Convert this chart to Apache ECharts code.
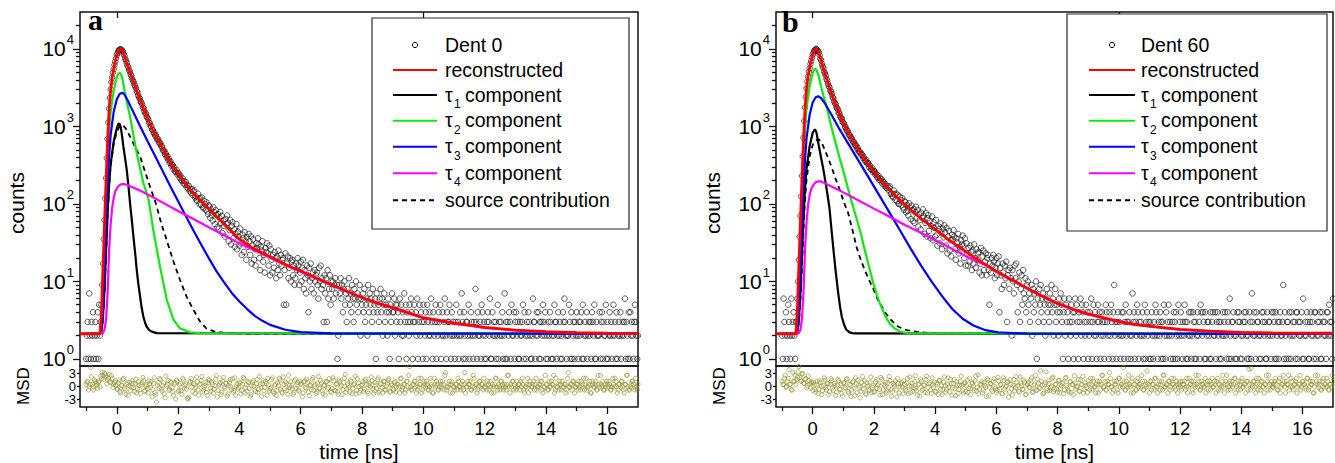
<!DOCTYPE html>
<html><head><meta charset="utf-8">
<script src="https://cdn.jsdelivr.net/npm/echarts@6/dist/echarts.min.js"></script>
<style>html,body{margin:0;padding:0;background:#fff}#c{width:1335px;height:463px}</style>
</head><body><div id="c"></div>
<script>
// ---------------- DATA ----------------
// photon counts per channel (channel width 0.025 ns starting at -1.0 ns)
const COUNT_T0 = -1.0, COUNT_DT = 0.025;
// MSD residuals: two interleaved sets, each every 0.05 ns (starting at -1.0 and -0.975 ns)
const MSD_T0 = -1.0, MSD_T0_2 = -0.975, MSD_DT = 0.05;

const countsA = [1,2,3,1,7,2,1,3,2,4,1,2,3,1,2,4,1,5,2,
3,5,9,17,35,62,118,215,390,690,1130,1700,2330,3020,3710,4280,4950,5480,6230,6850,7580,8380,8870,9410,9620,9920,9870,9760,9580,9250,
8590,8170,7460,7080,6610,6080,5810,5330,5140,4710,4500,4150,3890,3750,3440,3300,3110,2840,2750,2510,2360,2290,2100,2040,1930,1760,1720,1570,1490,1460,1330,1300,
1240,1120,1110,1010,1000,910,900,820,830,760,770,700,680,690,625,600,610,550,555,498,480,490,436,445,401,415,368,380,340,355,312,322,318,280,295,262,258,274,240,251,
246,219,232,205,199,214,185,197,178,192,165,175,158,171,146,154,139,155,131,145,150,121,126,112,110,135,118,99,118,97,121,92,88,110,99,84,105,80,74,96,
92,66,85,72,61,90,78,55,83,72,50,74,48,66,79,57,70,42,61,52,38,64,55,71,57,33,46,62,30,52,58,36,47,28,41,55,26,44,38,29,
48,31,22,40,36,24,43,33,19,37,28,41,33,22,38,17,29,35,19,26,16,31,27,36,30,20,14,28,25,33,18,22,13,27,24,31,23,16,29,12,
26,19,13,22,15,24,20,11,21,14,25,17,12,22,16,19,20,5,14,23,5,17,21,11,15,20,10,18,19,12,16,9,11,17,14,20,16,9,13,18,
10,15,19,8,14,11,7,16,12,4,15,10,17,8,11,13,7,14,10,12,13,9,6,15,10,16,8,11,9,3,12,7,11,3,14,6,8,12,5,10,
8,10,6,9,11,7,9,1,2,9,7,11,6,9,4,8,10,5,7,3,8,6,11,5,7,4,9,6,3,8,6,10,5,7,4,6,9,2,6,5,
7,4,8,3,5,6,2,9,4,7,5,6,3,8,4,5,6,1,7,4,5,3,6,8,4,6,2,5,7,3,5,4,2,6,4,1,5,3,7,4,
4,6,2,5,3,5,4,1,6,3,5,2,4,2,7,3,5,1,4,3,2,5,3,6,4,1,3,5,3,4,2,6,1,3,5,2,4,3,1,5,
3,2,4,1,5,3,2,4,2,6,3,1,4,2,3,5,1,3,2,4,3,5,1,2,4,2,3,6,2,1,4,3,3,5,2,1,4,2,3,2,
1,3,5,2,3,1,2,4,2,7,3,1,4,2,1,3,3,2,5,1,2,4,3,2,1,3,2,8,3,1,4,2,2,3,1,5,4,2,3,1,
2,1,3,4,3,2,6,1,1,4,2,3,2,3,1,2,5,1,3,2,3,2,4,1,2,7,1,3,1,3,2,4,3,1,5,2,2,4,1,3,
4,2,3,1,1,3,2,2,3,5,1,4,2,1,3,2,4,3,2,1,1,2,6,3,3,1,2,4,2,4,1,3,1,3,2,5,3,2,4,1,
2,1,3,2,4,3,1,2,1,2,5,3,3,1,2,4,2,3,1,2,1,4,3,6,3,2,1,2,2,5,3,1,4,1,2,3,1,3,2,4,
2,1,3,2,3,4,1,5,1,2,3,2,4,1,2,3,2,3,1,4,3,2,5,1,1,3,2,2,2,4,1,3,4,1,3,2,2,5,1,3,
1,2,4,2,3,1,2,5,2,3,1,4,1,2,3,2,4,1,2,3,2,3,6,1,3,2,1,4,1,4,2,3,2,1,3,5,3,2,1,2];

const countsB = [2,1,6,3,2,4,1,2,5,3,2,1,6,2,3,4,2,1,3,
3,6,10,19,38,70,125,230,410,720,1180,1760,2410,3100,3800,4400,5050,5620,6350,7000,7700,8450,8980,9450,9720,10050,9930,9710,9400,9020,
8310,7480,7090,6420,5930,5650,5100,4860,4510,4080,3900,3540,3310,3190,2890,2790,2620,2380,2310,2110,1990,1940,1760,1720,1640,1500,1470,1340,1280,1260,1150,1120,
1080,990,985,910,870,865,795,770,765,705,700,650,625,630,575,580,560,515,525,482,465,474,432,441,425,390,398,366,355,368,332,338,331,298,310,282,275,289,258,266,
262,238,247,224,218,231,205,214,196,209,183,194,190,171,180,162,159,170,150,161,168,134,139,126,123,149,133,113,136,108,131,101,100,124,112,96,119,90,84,108,
105,78,97,82,71,102,90,64,95,83,60,86,57,78,92,66,84,51,73,62,47,77,66,85,70,41,57,76,38,65,72,45,60,36,52,69,34,58,49,38,
62,40,29,52,47,31,56,43,26,48,37,53,43,29,49,23,38,45,25,34,21,40,35,46,38,26,19,36,32,41,23,28,17,34,30,39,29,20,36,16,
31,23,16,27,18,29,24,14,25,17,30,20,15,26,19,23,24,13,17,27,12,21,25,14,18,23,12,20,22,14,5,17,13,20,16,22,18,11,15,20,
12,17,21,4,15,12,8,17,13,9,16,11,18,3,12,14,8,15,11,2,14,10,7,16,11,17,9,4,10,13,3,8,12,5,14,7,6,11,4,9,
10,5,7,3,6,9,2,8,4,7,5,10,1,6,3,8,5,9,4,6,7,3,5,2,6,8,4,5,3,7,5,9,4,6,2,5,8,3,5,4,
2,6,4,7,5,3,1,4,6,2,5,3,4,1,6,3,2,5,3,4,1,4,6,2,5,3,1,4,3,6,2,5,4,1,3,2,5,3,4,1,
2,4,3,6,1,3,5,2,4,2,1,3,5,3,4,1,2,4,3,2,1,3,5,4,3,2,1,4,2,5,3,1,4,9,2,3,1,3,4,2,
3,1,2,4,2,4,1,3,5,2,3,1,3,4,2,1,2,7,3,4,1,3,2,5,4,1,3,2,3,2,4,1,2,5,1,3,4,2,3,1,
3,1,4,2,1,3,2,5,4,2,1,3,2,4,3,1,3,1,5,2,1,4,2,3,5,2,3,1,2,3,1,4,3,1,4,2,1,5,2,3,
4,2,1,3,2,5,3,1,3,1,2,4,2,4,1,2,4,3,1,3,1,2,4,2,3,1,5,4,2,4,3,1,4,1,2,3,3,2,1,4,
1,3,4,2,2,4,1,3,4,2,3,1,3,1,2,4,2,3,4,2,1,4,3,1,6,2,1,3,3,4,2,1,2,1,4,3,4,3,1,2,
1,2,3,4,3,4,2,1,2,1,4,3,1,7,3,2,4,2,1,4,3,3,2,1,2,1,4,3,4,2,3,1,1,4,2,3,3,2,1,4,
2,4,3,1,4,1,2,3,1,3,4,2,2,3,9,1,4,2,1,3,3,1,4,2,1,4,2,3,2,3,1,4,4,1,3,2,3,2,4,1,
6,1,2,3,2,4,3,1,1,3,4,2,3,2,1,4,4,1,2,3,2,3,4,1,1,4,3,2,3,2,1,4,4,2,5,3,2,3,1,6];

const msdA = [0.5,1.2,-0.1,4.4,0.5,-0.8,1.2,0.3,0.9,-0.1,
1.8,2.6,3.1,2.2,1.5,2.8,0.9,1.9,0.4,1.3,-0.6,
0.8,-1.2,0.3,1.6,-0.4,-1.8,0.9,0.2,-0.9,1.4,-0.3,0.6,-1.5,1.1,-0.7,0.4,2.1,-1.1,0.1,-0.5,
1.3,-0.2,-2.4,0.7,-1.4,-3.6,0.9,1.8,-0.6,0.2,-1.7,2.4,0.5,-0.9,1.2,-0.3,-2.0,0.8,1.5,-1.2,
0.3,-1.0,1.9,-0.5,0.6,-2.7,-2.5,1.1,-0.1,0.7,-1.6,2.2,-0.8,0.4,1.4,-1.3,-0.2,0.9,-2.1,1.7,
-0.4,1.0,-1.5,0.2,2.5,-0.9,0.6,-1.9,1.3,-0.1,0.8,-2.2,0.3,1.6,-0.7,-1.3,2.0,0.1,-0.6,1.1,
-1.7,0.5,1.8,-0.3,-1.1,0.9,-2.3,0.2,1.4,-0.8,0.6,-1.4,2.3,-0.2,0.7,-1.0,1.2,-2.0,0.4,-0.5,
1.6,-1.2,0.3,-2.1,0.8,1.9,-0.6,-1.5,0.5,1.1,-0.9,2.6,-0.3,0.2,-1.8,1.3,-0.4,0.9,-1.1,0.6,
-2.4,1.0,-0.2,1.7,-1.3,0.4,-0.7,2.1,0.1,-1.6,0.8,-0.5,1.4,-1.0,0.3,-2.0,1.2,-0.3,0.7,-1.4,
2.0,-0.8,0.5,-1.2,1.5,-0.1,-1.9,0.9,2.8,-0.6,0.2,-1.3,1.1,-0.4,0.6,-1.7,1.8,0.0,-0.9,0.4,
-1.1,1.3,0.5,-1.6,0.8,2.2,-0.5,-1.0,0.3,1.6,-1.4,0.7,-0.2,1.2,-0.8,0.1,1.5,-1.2,0.6,-0.4,
0.9,-1.3,0.5,-0.1,1.8,-0.8,0.5,-1.5,1.2,-0.1,4.6,-0.8,0.5,1.2,-0.1,-0.8,1.9,0.5,-1.5,-0.1,
0.5,1.2,-0.8,-0.1,0.5,-1.5,1.9,-0.1,0.5,-0.8,1.2,-0.1,0.5,2.6,-0.8,-0.1,1.2,0.5,-1.5,-0.1,
0.5,-0.8,1.2,-0.1,0.5,-0.8,3.2,-0.1,1.2,0.5,-0.8,-0.1,1.9,0.5,-1.5,-0.1,1.2,0.5,-0.8,-0.1,
0.5,1.2,-0.8,-0.1,0.5,-1.5,1.9,-0.1,0.5,-0.8,1.2,-0.1,0.5,-0.8,2.6,-0.1,0.5,1.2,-0.8,-0.1,
1.2,0.5,-0.8,-0.1,0.5,-1.5,-0.1,1.9,0.5,-0.8,-0.1,1.2,0.5,-0.8,-0.1,0.5,1.2,-1.5,-0.1,0.5,
-0.8,1.2,-0.1,0.5,2.6,-0.8,-0.1,0.5,1.2,-0.8,-0.1,0.5,-1.5,1.9,-0.1,0.5,-0.8,1.2,-0.1,0.5,
-0.8,-0.1,1.2,0.5,-0.8,1.9,-0.1,0.5,-1.5,1.2,-0.1,0.5,-0.8,2.6,-0.1,0.5,1.2,-0.8,-0.1,0.5,
1.2,-0.8,-0.1,0.5,1.9,-0.1,-0.8,0.5,1.2,-0.1,-1.5,0.5,2.6,-0.8,-0.1,1.2,0.5,-0.8,-0.1,0.5];

const msdA2 = [1.0,-0.8,0.5,2.2,-0.1,1.5,0.8,-0.4,1.2,
2.4,3.3,1.7,2.9,0.6,2.0,1.1,2.5,-0.2,0.9,0.3,
-0.6,1.5,-1.4,0.2,1.9,-0.8,0.5,-2.0,1.0,-0.2,0.7,-1.2,1.7,-0.5,0.3,-1.6,0.9,1.3,-0.9,0.4,
-1.5,0.6,1.1,-0.7,2.0,-1.9,0.3,-0.4,1.6,-1.1,0.8,-2.6,0.1,1.4,-0.6,0.9,-1.3,0.5,-2.9,1.2,
-0.9,0.7,-1.8,1.5,0.2,-0.6,-2.9,0.8,1.8,-1.2,0.4,-0.3,1.1,-2.0,0.6,2.3,-0.8,0.2,-1.4,0.9,
1.4,-1.1,0.5,-0.6,1.7,-2.4,0.3,0.9,-1.3,2.1,-0.4,0.6,-1.7,1.0,-0.1,1.8,-0.9,-2.0,0.7,-0.3,
0.8,-0.9,2.1,-1.5,0.4,1.2,-0.5,-1.9,0.9,0.1,-1.2,1.6,-0.7,0.5,-2.2,1.3,-0.2,0.7,1.9,-1.0,
-0.3,2.0,-1.6,0.6,-0.9,0.3,1.5,-1.3,2.2,-0.5,0.8,-1.8,0.2,1.1,-0.6,-1.4,1.7,0.4,-0.8,1.2,
0.6,-1.5,1.3,-0.4,0.9,-2.1,0.2,1.6,-0.9,0.5,-1.2,2.3,-0.3,0.8,-1.7,0.3,1.0,-0.6,1.8,-1.1,
-0.5,1.4,-1.0,0.7,-1.8,1.1,0.3,-0.7,1.9,-1.3,0.6,-0.2,1.5,-1.6,0.4,2.4,-0.9,0.8,-1.4,0.2,
1.1,-0.6,1.7,-1.2,0.3,-0.1,1.3,-1.7,0.9,-0.4,2.0,-1.0,0.5,-1.5,1.2,-0.8,0.6,1.8,-1.3,0.3,
-0.8,1.2,-0.1,0.5,-1.5,1.9,-0.1,0.5,-0.8,1.2,2.6,-0.1,-0.8,0.5,1.2,-1.5,-0.1,0.5,1.9,-0.8,
1.2,-0.1,0.5,-0.8,1.9,-0.1,-1.5,0.5,1.2,-0.8,-0.1,0.5,1.2,-0.8,3.2,-0.1,0.5,-1.5,1.2,-0.1,
-0.8,0.5,1.9,-0.1,-0.8,1.2,0.5,-1.5,-0.1,0.5,1.2,-0.8,2.6,-0.1,0.5,-0.8,1.2,-0.1,0.5,1.9,
-0.1,-0.8,0.5,1.2,-1.5,-0.1,0.5,1.9,-0.8,-0.1,1.2,0.5,-0.8,-0.1,0.5,2.6,-1.5,-0.1,1.2,0.5,
-0.8,-0.1,0.5,1.2,1.9,-0.8,-0.1,0.5,-1.5,1.2,-0.1,0.5,-0.8,1.9,-0.1,0.5,1.2,-0.8,-0.1,2.6,
0.5,-0.8,-0.1,1.2,0.5,-1.5,1.9,-0.1,-0.8,0.5,1.2,-0.1,0.5,-0.8,3.2,-0.1,0.5,1.2,-1.5,-0.1,
0.5,1.2,-0.8,-0.1,1.9,0.5,-0.8,-0.1,1.2,-1.5,0.5,-0.1,1.2,-0.8,0.5,2.6,-0.1,-0.8,0.5,1.2,
-0.1,0.5,-0.8,1.9,-0.1,1.2,-1.5,0.5,-0.1,1.2,-0.8,0.5,2.6,-0.1,-0.8,0.5,1.2,-0.1,1.9,-0.8];

const msdB = [1.2,0.5,2.6,-0.1,1.9,0.5,-0.8,3.2,1.2,0.5,
2.2,4.6,1.5,2.9,0.8,1.7,-0.3,2.4,0.6,1.1,-0.9,
0.4,-1.3,1.2,-0.6,0.9,-1.9,0.2,1.5,-0.8,0.6,-1.2,1.8,-0.3,0.7,-2.1,0.3,1.3,-0.7,-1.6,0.8,
-0.2,1.6,-1.1,0.5,-2.3,1.0,-0.4,2.0,-1.4,0.3,-2.6,0.9,-0.6,1.4,-1.8,0.1,-0.9,2.2,-0.2,-1.3,
1.1,-0.5,0.6,-2.0,1.7,-0.8,0.2,-1.5,0.9,2.3,-0.7,-1.2,0.4,1.3,-2.4,0.7,-0.1,1.0,-1.7,0.5,
-0.9,1.9,0.1,-1.4,0.8,-0.3,2.5,-1.0,0.4,-2.2,1.2,-0.6,0.3,1.6,-1.5,0.6,-0.8,2.0,-0.2,-1.1,
0.9,-1.8,1.4,0.2,-0.7,2.2,-1.3,0.5,-0.1,1.7,-2.0,0.7,-0.5,1.1,-1.6,0.3,2.4,-0.9,0.6,-1.2,
1.5,-0.4,-1.9,0.8,0.1,1.3,-1.1,2.7,-0.6,0.4,-1.5,1.0,-0.2,1.8,-2.2,0.6,-0.8,1.2,0.0,-1.4,
2.1,-0.7,0.5,-1.7,1.4,-0.1,0.9,-2.5,1.6,-0.5,0.3,-1.0,2.3,0.2,-1.3,0.8,-0.6,1.5,-1.9,0.4,
1.0,-0.3,2.0,-1.2,0.6,-0.8,1.7,-0.2,3.6,0.3,-1.5,0.9,-0.5,1.3,-1.0,0.1,2.2,-0.7,0.5,-1.3,
1.4,-0.4,0.7,-1.6,1.9,0.2,-0.9,1.1,-1.4,0.5,2.5,-0.6,0.0,-1.1,1.6,0.4,-1.5,0.9,-0.3,1.3,
-0.8,0.5,1.9,-0.1,-1.5,1.2,0.5,-0.8,2.6,-0.1,1.2,-0.8,0.5,3.2,-0.1,-1.5,1.2,0.5,-0.8,1.9,
-0.1,0.5,4.4,-0.8,1.2,-0.1,0.5,-1.5,1.9,0.5,-0.8,1.2,-0.1,0.5,2.6,-0.8,1.2,-0.1,0.5,-1.5,
1.2,0.5,-0.8,1.9,-0.1,0.5,-0.8,1.2,2.6,-0.1,0.5,-1.5,1.2,-0.1,0.5,1.9,-0.8,0.5,-0.1,1.2,
-0.8,0.5,1.2,-0.1,-1.5,1.9,0.5,-0.8,1.2,-0.1,0.5,2.6,-0.8,1.2,0.5,-0.1,-1.5,1.2,0.5,-0.8,
1.9,-0.1,0.5,1.2,-0.8,0.5,-0.1,2.6,-1.5,1.2,0.5,-0.1,-0.8,1.2,0.5,1.9,-0.1,-0.8,0.5,1.2,
-0.1,0.5,-1.5,1.2,4.0,-0.8,0.5,1.2,-0.1,1.9,-0.8,0.5,1.2,-0.1,-1.5,0.5,1.2,2.6,-0.8,0.5,
-0.1,1.2,0.5,-0.8,1.9,-0.1,0.5,1.2,-1.5,0.5,2.6,-0.1,1.2,-0.8,0.5,1.9,-0.1,0.5,-0.8,1.2,
0.5,-0.1,1.9,-0.8,1.2,0.5,-1.5,-0.1,1.2,2.6,0.5,-0.8,1.2,-0.1,0.5,1.9,-0.8,0.5,-0.1,1.2];

const msdB2 = [0.5,1.9,-0.1,1.2,3.9,0.5,-0.8,1.2,2.6,
1.6,3.4,2.1,1.2,3.0,0.7,1.8,0.2,1.4,-0.4,0.8,
1.0,-0.7,0.4,-1.6,1.3,0.1,-1.0,2.0,-0.3,0.8,-1.9,0.5,1.4,-0.9,0.2,-1.3,1.7,-0.5,0.6,-2.2,
0.9,-0.4,1.8,-1.5,0.3,-0.8,1.2,-2.1,0.6,1.5,-0.2,-1.1,2.3,0.4,-1.7,0.8,-0.6,1.0,-1.4,0.2,
-1.2,1.6,0.3,-0.7,2.1,-1.9,0.5,0.9,-1.0,-0.3,1.4,-2.3,0.7,0.1,-0.8,1.9,-1.5,0.6,-0.1,1.3,
-0.6,0.8,-1.7,2.2,0.0,-1.1,1.1,-0.4,-2.0,0.6,1.7,-0.9,0.3,-1.4,2.4,-0.2,0.9,-1.6,0.4,1.0,
-1.3,0.5,1.4,-0.6,-1.9,1.0,0.2,-0.8,2.0,-1.2,0.7,-0.3,1.6,-2.1,0.4,-0.7,1.2,0.3,-1.5,0.9,
0.2,-1.4,1.9,-0.5,0.8,-1.0,2.4,-0.2,-1.7,0.6,1.1,-0.8,0.3,-2.3,1.5,-0.1,0.7,-1.2,1.8,-0.4,
-0.9,1.3,0.4,-1.6,2.0,-0.6,0.1,1.2,-1.3,0.5,-2.0,1.6,-0.3,0.9,-1.1,2.2,0.2,-0.7,1.0,-1.8,
0.6,-0.2,1.5,-1.4,0.3,2.6,-0.9,0.8,-0.5,1.2,-1.7,0.4,3.4,-1.0,0.7,-0.3,1.9,-1.2,0.5,-0.6,
1.3,-1.5,0.2,0.9,-0.8,2.1,-0.3,-1.3,1.1,0.4,-1.9,0.8,-0.1,1.6,-1.1,0.5,2.3,-0.7,0.2,-1.4,
0.5,1.9,-0.8,1.2,-0.1,0.5,-1.5,1.2,0.5,2.6,-0.1,-0.8,1.2,0.5,1.9,-0.1,-0.8,0.5,1.2,-1.5,
1.9,0.5,-0.1,1.2,-0.8,0.5,2.6,-0.1,1.2,-1.5,0.5,-0.8,1.9,0.5,-0.1,1.2,-0.8,0.5,3.6,-0.1,
1.2,-0.8,0.5,1.9,-0.1,-1.5,1.2,0.5,-0.8,2.6,-0.1,0.5,1.2,-0.8,1.9,0.5,-0.1,1.2,-1.5,0.5,
-0.1,1.2,0.5,-0.8,1.9,-0.1,0.5,1.2,-1.5,0.5,2.6,-0.1,1.2,-0.8,0.5,-0.1,1.9,0.5,-0.8,1.2,
0.5,-0.1,1.2,-1.5,1.9,0.5,-0.8,1.2,-0.1,0.5,2.6,-0.8,1.2,0.5,-0.1,1.9,-1.5,0.5,1.2,-0.8,
1.9,-0.1,0.5,1.2,-0.8,0.5,4.2,-0.1,1.2,-1.5,0.5,1.9,-0.8,1.2,-0.1,0.5,2.6,-0.8,0.5,1.2,
-0.1,0.5,1.9,-0.8,1.2,-1.5,0.5,2.6,-0.1,1.2,0.5,-0.8,1.9,-0.1,0.5,1.2,-1.5,0.5,2.6,-0.1,
1.2,0.5,-0.8,1.9,-0.1,0.5,1.2,-1.5,2.6,0.5,-0.1,1.2,-0.8,1.9,0.5,-0.1,1.2,-0.8,0.5,2.6];

// fitted curves [time ns, counts]
const reconA = [[-1.2,2.1],[-0.55,2.1],[-0.5,4],[-0.45,15],[-0.4,55],[-0.35,200],[-0.3,650],[-0.25,1650],[-0.2,3000],[-0.15,4300],[-0.1,5500],[-0.05,6900],[0,8300],[0.05,9350],[0.1,9850],[0.13,9900],[0.2,9300],[0.3,7010],[0.4,5400],[0.5,4190],[0.6,3270],[0.7,2550],[0.8,2010],[0.9,1600],[1.0,1285],[1.2,843],[1.4,617],[1.6,431],[1.8,313],[2.0,244],[2.2,190],[2.4,150],[2.7,114],[3.0,86.5],[3.3,66],[3.6,50],[4.0,35],[4.4,27.5],[4.8,22.8],[5.2,19],[5.6,15.8],[6.0,13.6],[6.4,11.6],[6.8,9.8],[7.2,8.4],[7.6,7.2],[8.0,6.2],[8.5,5.25],[9.0,4.6],[9.5,3.96],[10,3.4],[10.5,3.14],[11,2.9],[11.5,2.72],[12,2.55],[13,2.35],[14,2.25],[15,2.18],[16,2.15],[17,2.13]];
const tau1A = [[-1.2,2.1],[-0.55,2.1],[-0.5,2.3],[-0.45,3.5],[-0.4,8],[-0.35,24],[-0.3,75],[-0.25,180],[-0.2,330],[-0.1,640],[0,950],[0.05,1070],[0.086,1100],[0.13,980],[0.17,760],[0.216,549],[0.27,390],[0.325,275],[0.38,170],[0.433,102],[0.49,62],[0.542,38],[0.6,23],[0.65,14.1],[0.7,9.5],[0.759,6.4],[0.81,4.6],[0.868,3.5],[0.92,2.95],[0.976,2.6],[1.06,2.35],[1.14,2.25],[1.3,2.15],[17,2.1]];
const tau2A = [[-1.2,2.1],[-0.55,2.1],[-0.5,3],[-0.45,8],[-0.4,30],[-0.35,105],[-0.3,340],[-0.25,850],[-0.2,1550],[-0.1,2900],[0,4300],[0.05,4800],[0.107,4950],[0.17,4350],[0.25,2950],[0.33,2050],[0.433,1340],[0.54,783],[0.65,451],[0.76,288],[0.868,185],[1.03,118],[1.11,74],[1.19,46],[1.3,26.7],[1.41,15.5],[1.52,9.5],[1.63,5.8],[1.74,4.3],[1.85,3.2],[2.06,2.48],[2.39,2.2],[2.71,2.15],[17,2.1]];
const tau3A = [[-1.2,2.1],[-0.55,2.1],[-0.5,2.3],[-0.45,5],[-0.4,16],[-0.35,55],[-0.3,175],[-0.25,420],[-0.2,780],[-0.1,1550],[0,2250],[0.1,2650],[0.18,2730],[0.26,2550],[0.35,2200],[0.5,1650],[0.75,1030],[1.0,650],[1.25,415],[1.5,265],[1.75,168],[2.0,108],[2.25,70],[2.5,45.5],[2.75,30],[3.0,20],[3.25,13.6],[3.5,9.7],[3.75,7.1],[4.0,5.5],[4.25,4.4],[4.5,3.6],[4.75,3.1],[5.0,2.75],[5.5,2.38],[6.0,2.22],[7.0,2.14],[17,2.1]];
const tau4A = [[-1.2,2.1],[-0.55,2.1],[-0.45,2.15],[-0.4,2.4],[-0.35,3.2],[-0.3,7],[-0.25,25],[-0.2,55],[-0.15,90],[-0.1,120],[-0.05,145],[0.02,163],[0.1,176],[0.17,180],[0.24,181],[0.4,172],[0.7,152],[1.0,133],[1.5,104],[2.0,81],[2.5,64],[3.0,50],[3.5,39.5],[4.0,31],[4.5,25],[5.0,20.2],[5.5,16.3],[6.0,13.3],[6.5,10.9],[7.0,9.0],[7.5,7.4],[8.0,6.1],[8.5,5.2],[9.0,4.5],[9.5,3.9],[10,3.35],[10.5,3.1],[11,2.85],[11.5,2.68],[12,2.52],[13,2.33],[14,2.23],[15,2.17],[16,2.14],[17,2.12]];
const sourceA = [[-1.2,2.1],[-0.55,2.1],[-0.5,2.3],[-0.45,3.4],[-0.4,7.5],[-0.35,22],[-0.3,70],[-0.25,170],[-0.2,310],[-0.1,600],[0,860],[0.1,1010],[0.2,1045],[0.3,930],[0.45,720],[0.6,540],[0.76,408],[0.92,263],[1.085,167],[1.28,100],[1.45,56],[1.63,34],[1.85,18],[2.06,10.5],[2.28,6.3],[2.5,4.3],[2.7,3.1],[2.93,2.45],[3.2,2.25],[3.6,2.15],[4.5,2.12],[17,2.1]];

const reconB = [[-1.2,2.1],[-0.55,2.1],[-0.5,4.5],[-0.45,17],[-0.4,62],[-0.35,220],[-0.3,700],[-0.25,1750],[-0.2,3150],[-0.15,4500],[-0.1,5700],[-0.05,7100],[0,8500],[0.05,9500],[0.095,10000],[0.14,9800],[0.2,8900],[0.3,6500],[0.4,4800],[0.5,3600],[0.6,2750],[0.7,2150],[0.8,1700],[0.9,1370],[1.0,1110],[1.2,780],[1.4,570],[1.6,430],[1.8,330],[2.0,260],[2.2,208],[2.4,170],[2.6,140],[2.8,117],[3.0,99],[3.2,84],[3.4,72],[3.6,62],[3.8,54],[4.0,47],[4.4,35.5],[4.8,27.5],[5.2,21.3],[5.6,17],[6.0,13.5],[6.4,11],[6.8,9.1],[7.2,7.4],[7.6,6.2],[8.0,5.2],[8.5,4.4],[9.0,3.8],[9.5,3.4],[10,3.05],[10.5,2.8],[11,2.65],[12,2.4],[13,2.28],[14,2.2],[15,2.17],[17,2.15]];
const tau1B = [[-1.2,2.1],[-0.55,2.1],[-0.5,2.3],[-0.45,3.3],[-0.4,7.5],[-0.35,22],[-0.3,68],[-0.25,160],[-0.2,290],[-0.1,560],[0,830],[0.07,920],[0.12,840],[0.2,560],[0.27,400],[0.34,290],[0.45,160],[0.545,90],[0.61,48],[0.68,25],[0.75,13.5],[0.82,7.8],[0.89,4.8],[0.95,3.5],[1.02,2.8],[1.09,2.4],[1.2,2.2],[1.35,2.13],[17,2.1]];
const tau2B = [[-1.2,2.1],[-0.55,2.1],[-0.5,3.2],[-0.45,9],[-0.4,34],[-0.35,120],[-0.3,380],[-0.25,950],[-0.2,1750],[-0.1,3300],[0,4900],[0.07,5600],[0.13,5300],[0.2,4400],[0.27,3300],[0.37,2350],[0.48,1630],[0.6,1020],[0.75,605],[0.88,390],[1.02,250],[1.15,160],[1.29,101],[1.43,65],[1.57,42],[1.7,25.5],[1.84,15.5],[1.97,9.8],[2.11,6.4],[2.25,4.6],[2.38,3.5],[2.52,2.85],[2.66,2.5],[2.85,2.25],[3.07,2.15],[17,2.1]];
const tau3B = [[-1.2,2.1],[-0.55,2.1],[-0.5,2.3],[-0.45,5],[-0.4,16],[-0.35,52],[-0.3,165],[-0.25,390],[-0.2,720],[-0.1,1420],[0,2050],[0.1,2380],[0.18,2450],[0.27,2330],[0.4,1980],[0.6,1450],[0.85,960],[1.16,600],[1.5,360],[1.84,215],[2.18,128],[2.52,76],[2.86,45],[3.2,26.5],[3.54,16],[3.88,10],[4.22,6.5],[4.56,4.4],[4.9,3.3],[5.25,2.7],[5.65,2.35],[6.06,2.2],[7,2.12],[17,2.1]];
const tau4B = [[-1.2,2.1],[-0.55,2.1],[-0.45,2.15],[-0.4,2.4],[-0.35,3.3],[-0.3,7.5],[-0.25,27],[-0.2,60],[-0.15,98],[-0.1,130],[-0.05,156],[0.02,176],[0.1,190],[0.17,195],[0.245,196],[0.4,185],[0.7,162],[1.0,141],[1.5,111],[2.0,87],[2.5,69],[3.0,54],[3.5,43],[4.0,34],[4.43,28],[5.0,21.2],[5.6,16.5],[6.0,13.4],[6.4,10.9],[6.8,9.0],[7.2,7.35],[7.6,6.15],[8.0,5.15],[8.5,4.35],[9.0,3.75],[9.5,3.35],[10,3.0],[10.5,2.77],[11,2.62],[12,2.38],[13,2.26],[14,2.19],[15,2.16],[17,2.14]];
const sourceB = [[-1.2,2.1],[-0.55,2.1],[-0.5,2.2],[-0.45,3],[-0.4,6],[-0.35,16],[-0.3,48],[-0.25,115],[-0.2,210],[-0.1,410],[0,580],[0.1,660],[0.2,680],[0.3,610],[0.45,440],[0.61,304],[0.75,210],[0.886,151],[1.02,105],[1.16,76],[1.3,46],[1.43,28],[1.57,19],[1.7,14],[1.84,10.5],[1.98,8],[2.11,6],[2.25,4.8],[2.38,3.9],[2.52,3.3],[2.66,2.9],[2.8,2.6],[3.07,2.35],[3.5,2.2],[4.0,2.15],[17,2.1]];

// axis ticks / labels
const X_MAJOR = [0,2,4,6,8,10,12,14,16];
const X_MINOR = [-1,1,3,5,7,9,11,13,15];
const X_TOP = [0,10];
const Y_MAJOR = [1,10,100,1000,10000];
const Y_MINOR = [2,3,4,5,6,7,8,9,20,30,40,50,60,70,80,90,200,300,400,500,600,700,800,900,2000,3000,4000,5000,6000,7000,8000,9000,20000];
const MSD_TICKS = [-3,0,3];

// ---------------- STYLE / LAYOUT ----------------
const FONT = '"Liberation Sans", Arial, Helvetica, sans-serif';
const SERIF = '"Liberation Serif", "Times New Roman", serif';
const X_MIN = -1.2, X_MAX = 17, Y_MIN = 0.81, Y_MAX = 30000, M_MIN = -4.75, M_MAX = 4.75;
const COL = {data:'#1a1a1a', recon:'#ff0000', t1:'#000000', t2:'#14e614', t3:'#0000ff', t4:'#ff00ff', src:'#000000', msd:'#8f8f2a', axis:'#111111'};

const panels = [
  {letter:'a', name:'Dent 0', left:80, width:558, counts:countsA, msd:msdA, msd2:msdA2,
   curves:{recon:reconA,t1:tau1A,t2:tau2A,t3:tau3A,t4:tau4A,src:sourceA},
   box:[372,18,257,211], ix:[393,437], tx:445, lx:[88,34], cx:16, mx:23, tcx:359},
  {letter:'b', name:'Dent 60', left:776, width:557, counts:countsB, msd:msdB, msd2:msdB2,
   curves:{recon:reconB,t1:tau1B,t2:tau2B,t3:tau3B,t4:tau4B,src:sourceB},
   box:[1067,14,260,217], ix:[1089,1135], tx:1141, lx:[782,36], cx:712, mx:719, tcx:1054.5}
];
const TOP = 12, SPLIT = 366, MSD_H = 41;

const pts = (arr, t0, dt) => arr.map((v, i) => [Math.round((t0 + i * dt) * 1000) / 1000, v]);

const grid = [], xAxis = [], yAxis = [], series = [], graphic = [];
const tickLS = {color: COL.axis, width: 1.3};
const noLine = {show:false, onZero:false};

panels.forEach((P, p) => {
  const right = 1335 - P.left - P.width;
  grid.push({left:P.left, right:right, top:TOP, height:SPLIT - TOP, show:true, borderColor:COL.axis, borderWidth:1.5});
  grid.push({left:P.left, right:right, top:SPLIT, height:MSD_H, show:true, borderColor:COL.axis, borderWidth:1.5});
  const gm = 2 * p, gr = 2 * p + 1;
  xAxis.push({gridIndex:gm, type:'value', min:X_MIN, max:X_MAX, show:false, axisLine:noLine});
  xAxis.push({gridIndex:gm, type:'value', min:X_MIN, max:X_MAX, position:'top', axisLine:noLine,
    axisTick:{show:true, inside:true, length:6, customValues:X_TOP, lineStyle:tickLS}, axisLabel:{show:false}, splitLine:{show:false}});
  xAxis.push({gridIndex:gr, type:'value', min:X_MIN, max:X_MAX, position:'bottom', axisLine:noLine,
    axisTick:{show:true, length:7, customValues:X_MAJOR, lineStyle:tickLS},
    axisLabel:{customValues:X_MAJOR, fontSize:18.5, color:'#000', fontFamily:FONT, margin:12, hideOverlap:false}, splitLine:{show:false}});
  xAxis.push({gridIndex:gr, type:'value', min:X_MIN, max:X_MAX, position:'bottom', axisLine:noLine,
    axisTick:{show:true, length:4, customValues:X_MINOR, lineStyle:tickLS}, axisLabel:{show:false}, splitLine:{show:false}});

  yAxis.push({gridIndex:gm, type:'log', logBase:10, min:Y_MIN, max:Y_MAX, position:'left', axisLine:noLine,
    axisTick:{show:true, length:7, customValues:Y_MAJOR, lineStyle:tickLS},
    axisLabel:{customValues:Y_MAJOR, margin:6, color:'#000', fontFamily:FONT, fontSize:21, hideOverlap:false,
      formatter: v => '{b|10}{p|' + Math.round(Math.log10(v)) + '}',
      rich:{b:{fontSize:21, fontFamily:FONT, color:'#000'}, p:{fontSize:13, fontFamily:FONT, color:'#000', padding:[0,0,18,1]}}},
    splitLine:{show:false}, minorTick:{show:false}});
  yAxis.push({gridIndex:gm, type:'log', logBase:10, min:Y_MIN, max:Y_MAX, position:'left', axisLine:noLine,
    axisTick:{show:true, length:4, customValues:Y_MINOR, lineStyle:tickLS}, axisLabel:{show:false}, splitLine:{show:false}});
  yAxis.push({gridIndex:gr, type:'value', min:M_MIN, max:M_MAX, position:'left', axisLine:noLine,
    axisTick:{show:true, length:3, customValues:MSD_TICKS, lineStyle:tickLS},
    axisLabel:{customValues:MSD_TICKS, fontSize:13, lineHeight:10, color:'#000', fontFamily:FONT, margin:4, hideOverlap:false,
      showMinLabel:true, showMaxLabel:true}, splitLine:{show:false}});

  const xi = 4 * p, yi = 3 * p;
  series.push({type:'scatter', name:P.name, xAxisIndex:xi, yAxisIndex:yi, data:pts(P.counts, COUNT_T0, COUNT_DT),
    symbol:'circle', symbolSize:5.5, itemStyle:{color:'rgba(0,0,0,0)', borderColor:COL.data, borderWidth:0.9}, z:2, silent:true});
  const line = (key, name, color, width, dash) => series.push({type:'line', name, xAxisIndex:xi, yAxisIndex:yi,
    data:P.curves[key], showSymbol:false, symbol:'none', z:3, silent:true,
    lineStyle:{color, width, type: dash || 'solid'}, itemStyle:{color}});
  line('src', 'source contribution', COL.src, 1.8, [5,4]);
  line('t1', 'τ1 component', COL.t1, 2.2);
  line('t2', 'τ2 component', COL.t2, 2.2);
  line('t3', 'τ3 component', COL.t3, 2.2);
  line('t4', 'τ4 component', COL.t4, 2.2);
  line('recon', 'reconstructed', COL.recon, 2.8);
  const msdStyle = {color:'rgba(0,0,0,0)', borderColor:COL.msd, borderWidth:0.85};
  series.push({type:'scatter', name:'MSD ' + P.letter, xAxisIndex:4 * p + 2, yAxisIndex:3 * p + 2, data:pts(P.msd, MSD_T0, MSD_DT),
    symbol:'circle', symbolSize:4.2, itemStyle:msdStyle, z:2, silent:true});
  series.push({type:'scatter', name:'MSD ' + P.letter + ' (2)', xAxisIndex:4 * p + 2, yAxisIndex:3 * p + 2, data:pts(P.msd2, MSD_T0_2, MSD_DT),
    symbol:'circle', symbolSize:4.2, itemStyle:msdStyle, z:2, silent:true});

  // texts
  const txt = (x, y, text, size) => ({type:'text', x, y, z:101, silent:true,
    style:{text, fill:'#000', fontSize:size, fontFamily:FONT, align:'left', verticalAlign:'middle'}});
  graphic.push({type:'text', x:P.lx[0], y:P.lx[1], z:101, silent:true, style:{text:P.letter, fill:'#000', fontSize:30, fontWeight:'bold', fontFamily:SERIF, align:'left', verticalAlign:'bottom'}});
  graphic.push({type:'text', x:P.cx, y:203, rotation:Math.PI / 2, z:101, silent:true, style:{text:'counts', fill:'#000', fontSize:21, fontFamily:FONT, align:'center', verticalAlign:'middle'}});
  graphic.push({type:'text', x:P.mx, y:386, rotation:Math.PI / 2, z:101, silent:true, style:{text:'MSD', fill:'#000', fontSize:17, fontFamily:FONT, align:'center', verticalAlign:'middle'}});
  graphic.push({type:'text', x:P.tcx, y:451, z:101, silent:true, style:{text:'time [ns]', fill:'#000', fontSize:21, fontFamily:FONT, align:'center', verticalAlign:'middle'}});

  // legend box
  const B = P.box;
  graphic.push({type:'rect', z:100, silent:true, shape:{x:B[0], y:B[1], width:B[2], height:B[3]}, style:{fill:'#fff', stroke:'#2a2a2a', lineWidth:1.2}});
  const rows = [
    {y:45, marker:true, label:P.name},
    {y:70, color:COL.recon, label:'reconstructed'},
    {y:95, color:COL.t1, tau:'1'},
    {y:120.7, color:COL.t2, tau:'2'},
    {y:146.7, color:COL.t3, tau:'3'},
    {y:173.3, color:COL.t4, tau:'4'},
    {y:200.3, color:COL.src, dash:[5,4], label:'source contribution'}
  ];
  rows.forEach(r => {
    if (r.marker) graphic.push({type:'circle', z:101, silent:true, shape:{cx:(P.ix[0] + P.ix[1]) / 2, cy:r.y, r:2.6}, style:{fill:'none', stroke:'#000', lineWidth:1}});
    else graphic.push({type:'line', z:101, silent:true, shape:{x1:P.ix[0], y1:r.y, x2:P.ix[1], y2:r.y}, style:{stroke:r.color, lineWidth:2, lineDash:r.dash}});
    const ty = r.y - 0.5;
    if (r.tau) {
      graphic.push(txt(P.tx, ty, 'τ', 19.5));
      graphic.push(txt(P.tx + 9, ty + 9.5, r.tau, 12));
      graphic.push(txt(P.tx + 20, ty, 'component', 19.5));
    } else graphic.push(txt(P.tx, ty, r.label, 19.5));
  });
});

const chart = echarts.init(document.getElementById('c'), null, {renderer:'svg'});
chart.setOption({
  animation:false,
  backgroundColor:'#ffffff',
  textStyle:{fontFamily:FONT},
  grid, xAxis, yAxis, series, graphic
});
</script>
</body></html>
